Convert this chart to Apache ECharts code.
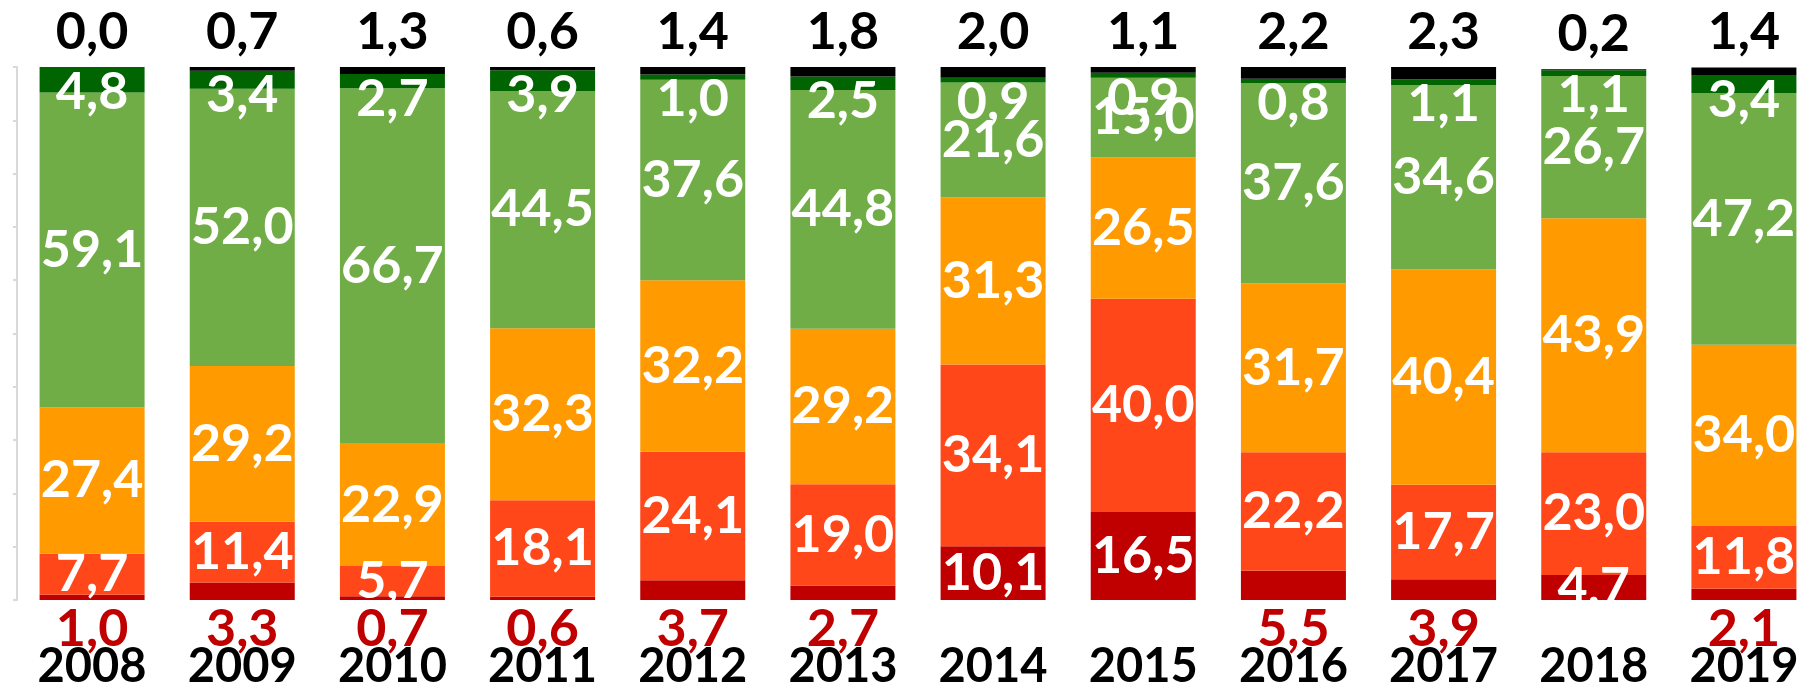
<!DOCTYPE html>
<html>
<head>
<meta charset="utf-8">
<script src="https://cdn.jsdelivr.net/npm/echarts@6/dist/echarts.min.js"></script>
<style>
html,body{margin:0;padding:0;background:#fff;}
#chart{width:1819px;height:692px;}
</style>
</head>
<body>
<div id="chart"></div>
<script>
const years = ['2008','2009','2010','2011','2012','2013','2014','2015','2016','2017','2018','2019'];
const darkRed    = [1.0, 3.3, 0.7, 0.6, 3.7, 2.7, 10.1, 16.5, 5.5, 3.9, 4.7, 2.1];
const red        = [7.7, 11.4, 5.7, 18.1, 24.1, 19.0, 34.1, 40.0, 22.2, 17.7, 23.0, 11.8];
const orange     = [27.4, 29.2, 22.9, 32.3, 32.2, 29.2, 31.3, 26.5, 31.7, 40.4, 43.9, 34.0];
const lightGreen = [59.1, 52.0, 66.7, 44.5, 37.6, 44.8, 21.6, 15.0, 37.6, 34.6, 26.7, 47.2];
const darkGreen  = [4.8, 3.4, 2.7, 3.9, 1.0, 2.5, 0.9, 0.9, 0.8, 1.1, 1.1, 3.4];
const black      = [0.0, 0.7, 1.3, 0.6, 1.4, 1.8, 2.0, 1.1, 2.2, 2.3, 0.2, 1.4];
// years whose dark-red value is written below the bar
const darkRedOutside = ['2008','2009','2010','2011','2012','2013','2016','2017','2019'];

const FONT = 'Lato';
const fmt = p => Number(p.value).toFixed(1).replace('.', ',');
const baseLabel = {show:true, color:'#fff', fontFamily:FONT, fontWeight:'bold', fontSize:52, formatter:fmt};

const darkRedData = darkRed.map((v,i) => darkRedOutside.includes(years[i])
  ? {value:v, label:{position:'bottom', distance:3, color:'#C00000'}}
  : {value:v});

function ser(name, data, color, label){
  return {name, type:'bar', stack:'total', data, barWidth:105,
    itemStyle:{color}, label:Object.assign({}, baseLabel, label||{}), labelLayout:{hideOverlap:false}};
}

const chart = echarts.init(document.getElementById('chart'), null, {renderer:'canvas'});
chart.setOption({
  animation:false,
  grid:{left:17, right:-22, top:67, bottom:92, containLabel:false},
  xAxis:{type:'category', data:years,
    axisLine:{show:false}, axisTick:{show:false},
    axisLabel:{color:'#000', fontFamily:FONT, fontWeight:'bold', fontSize:47, margin:43}},
  yAxis:{type:'value', min:0, max:100, interval:10,
    axisLine:{show:true, lineStyle:{color:'#d9d9d9', width:2}},
    axisTick:{show:true, length:4, lineStyle:{color:'#d9d9d9', width:2}},
    axisLabel:{show:false}, splitLine:{show:false}},
  series:[
    ser('darkRed', darkRedData, '#C00000'),
    ser('red', red, '#FF4719'),
    ser('orange', orange, '#FF9A00'),
    ser('lightGreen', lightGreen, '#70AD47'),
    ser('darkGreen', darkGreen, '#006400', {position:'insideTop', distance:-1}),
    ser('black', black, '#000000', {position:'top', distance:9, color:'#000'})
  ]
});
</script>
</body>
</html>
